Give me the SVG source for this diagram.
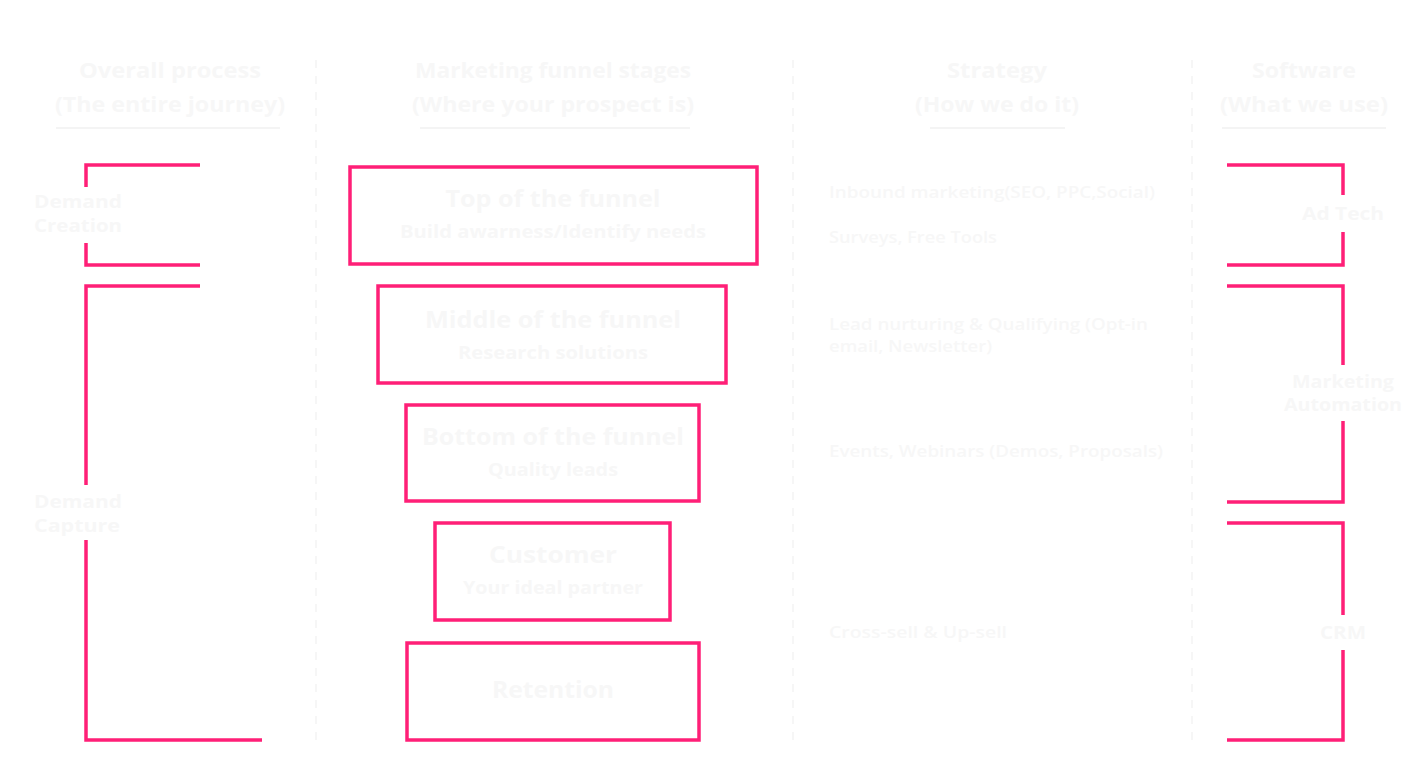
<svg xmlns="http://www.w3.org/2000/svg" width="1427" height="772" viewBox="0 0 1427 772">
<style>
text{font-family:"Open Sans","Liberation Sans",sans-serif;fill:#f7f7f7;font-weight:700}
.h{font-size:21px;text-anchor:middle}
.t{font-size:24px;text-anchor:middle}
.s{font-size:17px;text-anchor:middle}
.g{font-size:16px;font-weight:600}
.l{font-size:17px}
.b{fill:none;stroke:#ff1f77;stroke-width:3.5}
.d{stroke:#f6f6f6;stroke-width:2;stroke-dasharray:8 8}
.u{stroke:#f4f4f4;stroke-width:2}
</style>
<rect width="1427" height="772" fill="#fff"/>
<g id="dividers">
<line class="d" x1="316" y1="60" x2="316" y2="745"/>
<line class="d" x1="793" y1="60" x2="793" y2="745"/>
<line class="d" x1="1192" y1="60" x2="1192" y2="745"/>
</g>
<g id="headers">
<text class="h" x="170" y="78" textLength="182" lengthAdjust="spacingAndGlyphs">Overall process</text><text class="h" x="170" y="112" textLength="230" lengthAdjust="spacingAndGlyphs">(The entire journey)</text><line class="u" x1="56" y1="128" x2="280" y2="128"/>
<text class="h" x="553" y="78" textLength="276" lengthAdjust="spacingAndGlyphs">Marketing funnel stages</text><text class="h" x="553" y="112" textLength="282" lengthAdjust="spacingAndGlyphs">(Where your prospect is)</text><line class="u" x1="420" y1="128" x2="690" y2="128"/>
<text class="h" x="997" y="78" textLength="100" lengthAdjust="spacingAndGlyphs">Strategy</text><text class="h" x="997" y="112" textLength="164" lengthAdjust="spacingAndGlyphs">(How we do it)</text><line class="u" x1="930" y1="128" x2="1065" y2="128"/>
<text class="h" x="1304" y="78" textLength="104" lengthAdjust="spacingAndGlyphs">Software</text><text class="h" x="1304" y="112" textLength="168" lengthAdjust="spacingAndGlyphs">(What we use)</text><line class="u" x1="1222" y1="128" x2="1386" y2="128"/>
</g>
<g id="connectors">
<path class="b" d="M200 165H86V187M86 243V265H200"/>
<path class="b" d="M200 286H86V485M86 540V740H262"/>
<path class="b" d="M1227 165H1343V195M1343 232V265H1227"/>
<path class="b" d="M1227 286H1343V365M1343 421V502H1227"/>
<path class="b" d="M1227 523H1343V615M1343 650V740H1227"/>
</g>
<g id="demand-creation"><text class="l" x="34" y="208" textLength="88" lengthAdjust="spacingAndGlyphs">Demand</text><text class="l" x="34" y="232" textLength="88" lengthAdjust="spacingAndGlyphs">Creation</text></g>
<g id="demand-capture"><text class="l" x="34" y="508" textLength="88" lengthAdjust="spacingAndGlyphs">Demand</text><text class="l" x="34" y="532" textLength="86" lengthAdjust="spacingAndGlyphs">Capture</text></g>
<g id="tofu"><rect class="b" x="350" y="167" width="407" height="97"/><text class="t" x="553" y="207" textLength="215" lengthAdjust="spacingAndGlyphs">Top of the funnel</text><text class="s" x="553" y="238" textLength="306" lengthAdjust="spacingAndGlyphs">Build awarness/Identify needs</text></g>
<g id="mofu"><rect class="b" x="378" y="286" width="348" height="97"/><text class="t" x="553" y="328" textLength="256" lengthAdjust="spacingAndGlyphs">Middle of the funnel</text><text class="s" x="553" y="359" textLength="190" lengthAdjust="spacingAndGlyphs">Research solutions</text></g>
<g id="bofu"><rect class="b" x="406" y="405" width="293" height="96"/><text class="t" x="553" y="445" textLength="262" lengthAdjust="spacingAndGlyphs">Bottom of the funnel</text><text class="s" x="553" y="476" textLength="130" lengthAdjust="spacingAndGlyphs">Quality leads</text></g>
<g id="customer"><rect class="b" x="435" y="523" width="235" height="97"/><text class="t" x="553" y="563" textLength="128" lengthAdjust="spacingAndGlyphs">Customer</text><text class="s" x="553" y="594" textLength="180" lengthAdjust="spacingAndGlyphs">Your ideal partner</text></g>
<g id="retention"><rect class="b" x="407" y="643" width="292" height="97"/><text class="t" x="553" y="698" textLength="122" lengthAdjust="spacingAndGlyphs">Retention</text></g>
<g id="strategy">
<text class="g" x="829" y="198" textLength="326" lengthAdjust="spacingAndGlyphs">Inbound marketing(SEO, PPC,Social)</text>
<text class="g" x="829" y="243" textLength="168" lengthAdjust="spacingAndGlyphs">Surveys, Free Tools</text>
<text class="g" x="829" y="330" textLength="319" lengthAdjust="spacingAndGlyphs">Lead nurturing &amp; Qualifying (Opt-in</text>
<text class="g" x="829" y="352" textLength="163" lengthAdjust="spacingAndGlyphs">email, Newsletter)</text>
<text class="g" x="829" y="457" textLength="334" lengthAdjust="spacingAndGlyphs">Events, Webinars (Demos, Proposals)</text>
<text class="g" x="829" y="638" textLength="178" lengthAdjust="spacingAndGlyphs">Cross-sell &amp; Up-sell</text>
</g>
<g id="ad-tech"><text class="l" x="1343" y="220" text-anchor="middle" textLength="82" lengthAdjust="spacingAndGlyphs">Ad Tech</text></g>
<g id="ma"><text class="l" x="1343" y="388" text-anchor="middle" textLength="102" lengthAdjust="spacingAndGlyphs">Marketing</text><text class="l" x="1343" y="411" text-anchor="middle" textLength="118" lengthAdjust="spacingAndGlyphs">Automation</text></g>
<g id="crm"><text class="l" x="1343" y="639" text-anchor="middle" textLength="46" lengthAdjust="spacingAndGlyphs">CRM</text></g>
</svg>
